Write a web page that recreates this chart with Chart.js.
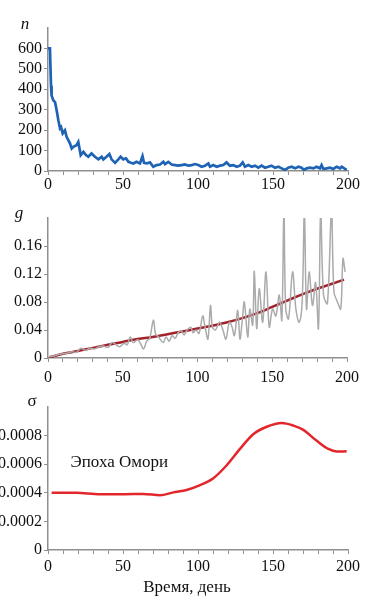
<!DOCTYPE html>
<html><head><meta charset="utf-8">
<script src="https://cdn.jsdelivr.net/npm/chart.js@4.4.0/dist/chart.umd.min.js"></script>
<style>
html,body{margin:0;padding:0;background:#fff;width:390px;height:600px;overflow:hidden}
canvas{position:absolute;left:0}
</style></head><body>
<canvas id="c1" width="390" height="195" style="top:0"></canvas>
<canvas id="c2" width="390" height="195" style="top:195px"></canvas>
<canvas id="c3" width="390" height="210" style="top:390px"></canvas>
<script>
// ---- Panel 1: n (events per day) ----
const nDays = [0,1.3,2,2.4,3.6,4.7,5.8,6.9,8,8.7,9.8,11.3,12.4,14.7,15.8,16.9,19,20.2,21.8,23.6,25.3,26.9,29,31.3,33.6,35.8,36.9,39,40.9,42.4,44.7,46.9,48.4,50.2,52,53.6,55.3,56.9,59,61.3,63,64,65.8,68,70.2,72.4,74.7,76.9,78,80.2,82.4,84.7,86.9,89,91.3,93.6,95.8,98,100.2,102.4,104.7,106.9,108,110.2,112.4,114.7,116.9,119,121.3,123.6,125.8,128,129.8,131.3,133.6,135.8,138,140.2,142.4,144.7,146.9,149,151.3,153.6,155.8,158,160.2,162.4,164.7,166.9,169,170.7,172.4,174.7,176.9,179,181.3,182.4,183.6,185.8,188,190.2,192.4,194.7,195.8,198,199.1];
const nValues = [600,600,417,369,345,337,296,248,209,215,184,199,167,134,110,118,126,142,78,94,78,70,86,70,57,70,57,70,83,57,40,57,70,57,62,45,40,37,45,37,73,40,37,42,21,29,32,45,34,45,32,29,26,29,32,26,29,34,29,21,26,37,21,29,21,26,29,42,26,29,21,26,42,21,29,21,26,16,26,16,21,26,16,21,13,5,16,21,13,21,16,5,13,16,13,21,13,29,10,13,16,10,21,13,21,10,5];

// ---- Panel 2: g (raw and trend) ----
const gDays = [1,4,7,10,13,16,19,22,25,28,31,34,37,40,43,46,48,51,53,55,57,60,62,64,66,68,70.5,72,74,77,79,81,83,85,87,89,91,93,95.5,97,99,101,103.5,105,107,108.7,110,112,114.7,117,119,121.3,123,124.7,126.9,128.4,130,131.3,133.6,135,136.9,138,139.6,141.3,143.6,145.8,148,150.2,152.4,154.7,156.4,157.8,159,160.9,163.6,165.8,168,170,171.5,172.9,174.7,176.9,179,180.9,182.4,184.3,186.9,189.6,191.3,193.6,195.8,197.3,198.7];
const gValues = [0.002,0.003,0.005,0.006,0.007,0.009,0.008,0.014,0.011,0.014,0.013,0.016,0.017,0.015,0.022,0.018,0.016,0.021,0.019,0.030,0.022,0.026,0.020,0.013,0.024,0.028,0.054,0.034,0.030,0.022,0.030,0.024,0.032,0.028,0.036,0.039,0.033,0.040,0.044,0.036,0.040,0.035,0.060,0.045,0.027,0.075,0.044,0.040,0.051,0.040,0.027,0.051,0.045,0.032,0.068,0.027,0.055,0.080,0.030,0.070,0.047,0.124,0.042,0.099,0.051,0.123,0.044,0.070,0.060,0.090,0.054,0.21,0.070,0.056,0.123,0.070,0.051,0.080,0.21,0.070,0.123,0.075,0.108,0.042,0.21,0.090,0.078,0.21,0.094,0.080,0.070,0.142,0.123];
const gTrendDays = [1,10,20,30,40,50,60,70,80,90,100,110,120,130,140,150,160,170,180,190,198];
const gTrend = [0.001,0.006,0.010,0.0145,0.019,0.023,0.027,0.030,0.034,0.038,0.042,0.046,0.051,0.057,0.064,0.073,0.082,0.091,0.099,0.106,0.112];

// ---- Panel 3: sigma ----
const sDays = [2.4,19,34.7,51,63.6,74.7,83.6,92.4,101,110,119,128,137,145.8,155.8,163.6,170.2,179,186.9,192.4,199.1];
const sValues = [0.000401,0.0004,0.00039,0.00039,0.000392,0.000383,0.000403,0.00042,0.000452,0.0005,0.000591,0.000707,0.000811,0.000862,0.000888,0.00087,0.00084,0.000765,0.000707,0.000689,0.00069];

// ---- Text ----
const xTickStep = 10, xLabelStep = 50;
const xTitle = 'Время, день';
const epochLabel = 'Эпоха Омори';

const pts = (xs, ys) => xs.map((x, i) => ({x, y: ys[i]}));
const AX = '#8f8f8f';
const SERIF = 'Liberation Serif, DejaVu Serif, serif';
Chart.defaults.font.family = SERIF;

function xScale(h, pad) {
  return {
    type: 'linear', min: 0, max: 200,
    border: {color: AX, width: 1.5},
    grid: {drawOnChartArea: false, color: AX, tickLength: 4, lineWidth: 1},
    ticks: {stepSize: xTickStep, autoSkip: false, maxRotation: 0, padding: pad, color: '#111',
      font: {family: SERIF, size: 16},
      callback: v => (v % xLabelStep === 0 ? String(v) : '')},
    afterFit: s => { s.height = h; }
  };
}
function yScale(max, step, showMax, fmt) {
  return {
    min: 0, max: max,
    border: {color: AX, width: 1.5},
    grid: {drawOnChartArea: false, color: AX, tickLength: 4, lineWidth: 1},
    ticks: {stepSize: step, padding: 2, color: '#111', font: {family: SERIF, size: 16},
      callback: v => fmt(v)},
    afterBuildTicks: s => { s.ticks = s.ticks.filter(t => t.value <= showMax + 1e-12); },
    afterFit: s => { s.width = 48; }
  };
}
const textPlugin = {
  id: 'texts',
  afterDraw(chart, args, opts) {
    const ctx = chart.ctx, a = chart.chartArea;
    ctx.save();
    ctx.fillStyle = '#111';
    ctx.textBaseline = 'middle';
    for (const t of opts.items || []) {
      ctx.font = t.font;
      ctx.textAlign = t.align || 'center';
      let x, y;
      if (t.dataX !== undefined) x = chart.scales.x.getPixelForValue(t.dataX); else x = a.left + t.dx;
      if (t.dataY !== undefined) y = chart.scales.y.getPixelForValue(t.dataY); else y = a.top + t.dy;
      if (t.absX !== undefined) x = t.absX;
      if (t.absY !== undefined) y = t.absY;
      ctx.fillText(t.text, x, y);
    }
    ctx.restore();
  }
};
const base = {responsive: false, animation: false, events: [],
  plugins: {legend: {display: false}, tooltip: {enabled: false}}};

new Chart(document.getElementById('c1'), {
  type: 'line',
  data: {datasets: [{data: pts(nDays, nValues), borderColor: '#1f63b5', borderWidth: 2.7,
    pointRadius: 0, tension: 0, fill: false}]},
  options: Object.assign({}, base, {
    layout: {padding: {left: 0, right: 42, top: 28, bottom: 0}},
    scales: {x: xScale(24, 0), y: yScale(700, 100, 600, v => String(v))},
    plugins: Object.assign({}, base.plugins, {texts: {items: [
      {text: 'n', font: 'italic 17px ' + SERIF, dx: -23, dy: -3}
    ]}})
  }),
  plugins: [textPlugin]
});

new Chart(document.getElementById('c2'), {
  type: 'line',
  data: {datasets: [
    {data: pts(gDays, gValues), borderColor: '#ababab', borderWidth: 1.5, pointRadius: 0, tension: 0.35, fill: false},
    {data: pts(gTrendDays, gTrend), borderColor: '#a3222c', borderWidth: 2.5, pointRadius: 0, tension: 0.4, fill: false}
  ]},
  options: Object.assign({}, base, {
    layout: {padding: {left: 0, right: 43, top: 23, bottom: 0}},
    scales: {x: xScale(32, 6), y: yScale(0.2, 0.04, 0.16, v => (v === 0 ? '0' : v.toFixed(2)))},
    plugins: Object.assign({}, base.plugins, {texts: {items: [
      {text: 'g', font: 'italic 17px ' + SERIF, dx: -29, dy: -4}
    ]}})
  }),
  plugins: [textPlugin]
});

new Chart(document.getElementById('c3'), {
  type: 'line',
  data: {datasets: [{data: pts(sDays, sValues), borderColor: '#e3262b', borderWidth: 2.5,
    pointRadius: 0, tension: 0.4, cubicInterpolationMode: 'monotone', fill: false}]},
  options: Object.assign({}, base, {
    layout: {padding: {left: 0, right: 42, top: 17, bottom: 0}},
    scales: {x: xScale(50, 3), y: yScale(0.001, 0.0002, 0.0008, v => (v === 0 ? '0' : v.toFixed(4)))},
    plugins: Object.assign({}, base.plugins, {texts: {items: [
      {text: 'σ', font: '17px ' + SERIF, dx: -16, dy: -5},
      {text: epochLabel, font: '17px ' + SERIF, align: 'left', dataX: 15, dataY: 0.00061},
      {text: xTitle, font: '17px ' + SERIF, absX: 187, absY: 198}
    ]}})
  }),
  plugins: [textPlugin]
});
</script>
</body></html>
